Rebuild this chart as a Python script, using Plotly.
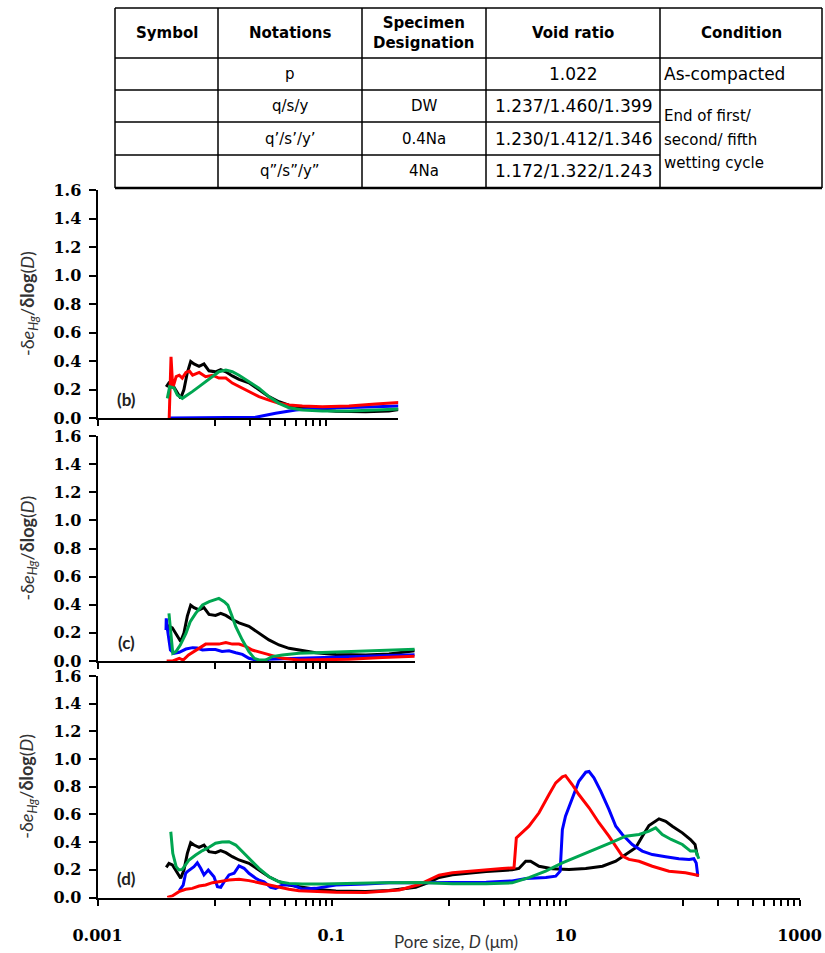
import plotly.graph_objects as go

W, H = 825, 953

# ---------------- data ----------------
# table content
table_header = ["Symbol", "Notations", "Specimen<br>Designation", "Void ratio", "Condition"]
notations = ["p", "q/s/y", "q\u2019/s\u2019/y\u2019", "q\u201d/s\u201d/y\u201d"]
designations = ["", "DW", "0.4Na", "4Na"]
void_ratios = ["1.022", "1.237/1.460/1.399", "1.230/1.412/1.346", "1.172/1.322/1.243"]
cond_first = "As-compacted"
cond_rest = ["End of first/", "second/ fifth", "wetting cycle"]

# x tick labels
xtick_major = [0.001, 0.1, 10, 1000]
xtick_major_text = ["0.001", "0.1", "10", "1000"]
xtick_minor = [0.02, 0.03, 0.04, 0.05, 0.06, 0.07, 0.08, 0.09, 0.01,
               1, 2, 3, 4, 5, 6, 7, 8, 9,
               100, 200, 300, 400, 500, 600, 700, 800, 900]
ytick_vals = [0.0, 0.2, 0.4, 0.6, 0.8, 1.0, 1.2, 1.4, 1.6]

# black: as-compacted (p), shown in every panel
p_D = [0.00387, 0.00408, 0.00436, 0.00466, 0.00514, 0.00548, 0.00586, 0.00626, 0.00668,
       0.00738, 0.00813, 0.00897, 0.0102, 0.0113, 0.0125, 0.0142, 0.0162, 0.0197, 0.024,
       0.0292, 0.0356, 0.0433, 0.0563, 0.0732, 0.109, 0.196, 0.31, 0.524, 0.68, 0.83, 1.08,
       1.5, 2.1, 2.9, 3.5, 4.0, 4.57, 5.03, 5.94, 7.7, 10.7, 14.9, 20.7, 26.9, 32.7, 39.8,
       45.4, 51.7, 63, 71.8, 81.8, 99.7, 117, 128, 134]
p_v = [0.218, 0.247, 0.236, 0.199, 0.139, 0.199, 0.319, 0.396, 0.379,
       0.363, 0.379, 0.331, 0.324, 0.339, 0.324, 0.295, 0.271, 0.247, 0.199,
       0.150, 0.114, 0.090, 0.074, 0.059, 0.047, 0.043, 0.050, 0.074, 0.110, 0.145, 0.165,
       0.178, 0.188, 0.195, 0.200, 0.210, 0.262, 0.262, 0.226, 0.207, 0.202, 0.209, 0.226,
       0.262, 0.311, 0.359, 0.443, 0.520, 0.568, 0.551, 0.515, 0.467, 0.419, 0.383, 0.300]

# panel (b)
b_red_D = [0.0041, 0.00425, 0.0044, 0.0047, 0.0050, 0.0053, 0.0057, 0.0061, 0.0065, 0.0074,
           0.0084, 0.0096, 0.0109, 0.0125, 0.0142, 0.0162, 0.0197, 0.024, 0.0292, 0.0356,
           0.0433, 0.0563, 0.0834, 0.141, 0.239, 0.373, 0.45]
b_red_v = [0.0, 0.43, 0.21, 0.29, 0.30, 0.28, 0.32, 0.33, 0.30, 0.32,
           0.29, 0.30, 0.28, 0.28, 0.245, 0.22, 0.185, 0.15, 0.126, 0.103,
           0.091, 0.084, 0.079, 0.084, 0.098, 0.110, 0.112]
b_blue_D = [0.0041, 0.0225, 0.0333, 0.0494, 0.0732, 0.141, 0.239, 0.373, 0.45]
b_blue_v = [0.0, 0.005, 0.033, 0.056, 0.067, 0.072, 0.079, 0.085, 0.087]
b_green_D = [0.00395, 0.00414, 0.00451, 0.00481, 0.00531, 0.00586, 0.00646, 0.00738, 0.00841,
             0.00958, 0.0109, 0.0125, 0.0142, 0.0162, 0.0197, 0.024, 0.0292, 0.0356, 0.0433,
             0.0563, 0.0834, 0.141, 0.239, 0.373, 0.45]
b_green_v = [0.138, 0.22, 0.21, 0.161, 0.138, 0.16, 0.185, 0.22, 0.255,
             0.29, 0.325, 0.337, 0.325, 0.30, 0.255, 0.209, 0.15, 0.103, 0.072,
             0.056, 0.049, 0.049, 0.056, 0.063, 0.065]

# panel (c)
c_red_D = [0.0039, 0.0044, 0.0050, 0.0054, 0.0060, 0.0067, 0.0074, 0.0084, 0.0096, 0.0109,
           0.0125, 0.0142, 0.0162, 0.0185, 0.021, 0.026, 0.031, 0.038, 0.0527, 0.0834,
           0.141, 0.272, 0.507, 0.6]
c_red_v = [0.0, 0.0, 0.019, 0.007, 0.043, 0.068, 0.095, 0.12, 0.12, 0.12,
           0.132, 0.12, 0.12, 0.104, 0.078, 0.055, 0.036, 0.019, 0.007, 0.007,
           0.012, 0.024, 0.035, 0.037]
c_blue_D = [0.00385, 0.00387, 0.0040, 0.0042, 0.0045, 0.0050, 0.0057, 0.0065, 0.0071, 0.0079,
            0.0090, 0.0102, 0.0116, 0.0133, 0.0152, 0.0173, 0.0197, 0.0225, 0.026, 0.0292,
            0.0527, 0.141, 0.507, 0.6]
c_blue_v = [0.22, 0.303, 0.20, 0.078, 0.055, 0.062, 0.085, 0.095, 0.092, 0.078,
            0.081, 0.081, 0.068, 0.073, 0.059, 0.047, 0.019, 0.007, 0.0, 0.012,
            0.019, 0.031, 0.045, 0.047]
c_green_D = [0.00408, 0.0044, 0.0047, 0.0051, 0.0057, 0.0062, 0.0069, 0.0079, 0.0090, 0.0102,
             0.0109, 0.0121, 0.0130, 0.0140, 0.0152, 0.0173, 0.0197, 0.0219, 0.024, 0.0274,
             0.031, 0.038, 0.0527, 0.0732, 0.141, 0.272, 0.507, 0.6]
c_green_v = [0.339, 0.055, 0.068, 0.113, 0.197, 0.28, 0.339, 0.398, 0.422, 0.438,
             0.445, 0.422, 0.398, 0.327, 0.244, 0.149, 0.066, 0.019, 0.007, 0.007,
             0.031, 0.043, 0.055, 0.059, 0.066, 0.073, 0.083, 0.085]

# panel (d)
d_red_D = [0.00395, 0.00436, 0.00497, 0.00567, 0.00646, 0.00738, 0.0084, 0.0096, 0.0109, 0.0133,
           0.0162, 0.0197, 0.024, 0.0292, 0.0356, 0.0433, 0.0527, 0.0732, 0.109, 0.196,
           0.38, 0.56, 0.68, 0.83, 1.08, 1.5, 2.1, 2.88, 3.63, 3.8, 4.87, 5.94, 7.23, 8.25,
           9.4, 10.0, 11.4, 13.0, 15.9, 19.3, 23.5, 26.9, 30.6, 34.9, 42.5, 55.2, 76.7,
           106, 130, 138]
d_red_v = [0.0, 0.011, 0.042, 0.059, 0.066, 0.083, 0.090, 0.107, 0.114, 0.126,
           0.131, 0.122, 0.107, 0.090, 0.074, 0.059, 0.049, 0.042, 0.038, 0.036,
           0.054, 0.094, 0.13, 0.161, 0.178, 0.19, 0.202, 0.209, 0.214, 0.431, 0.515, 0.612,
           0.744, 0.828, 0.872, 0.88, 0.816, 0.744, 0.648, 0.54, 0.443, 0.371, 0.299, 0.275,
           0.262, 0.226, 0.19, 0.178, 0.166, 0.159]
d_blue_D = [0.0050, 0.0054, 0.00567, 0.00586, 0.00668, 0.00713, 0.00762, 0.00813, 0.00885,
            0.0099, 0.0106, 0.0113, 0.0121, 0.0133, 0.0147, 0.0162, 0.0179, 0.0197, 0.0225,
            0.024, 0.0265, 0.0302, 0.0333, 0.038, 0.0463, 0.0563, 0.0732, 0.109, 0.196, 0.31,
            0.56, 1.08, 2.1, 3.5, 4.6, 6.8, 8.25, 9.0, 9.4, 10.0, 11.4, 13.0, 14.9, 15.9,
            17.5, 20.0, 23.5, 26.9, 30.6, 37.2, 45.3, 55.2, 71.8, 93, 114, 125, 131, 135, 138]
d_blue_v = [0.05, 0.09, 0.175, 0.187, 0.223, 0.251, 0.211, 0.163, 0.199,
            0.150, 0.078, 0.074, 0.114, 0.163, 0.175, 0.228, 0.211, 0.175, 0.139,
            0.126, 0.114, 0.074, 0.066, 0.09, 0.09, 0.061, 0.066, 0.09, 0.097, 0.107,
            0.106, 0.106, 0.11, 0.12, 0.137, 0.144, 0.154, 0.19, 0.49, 0.588, 0.708, 0.84,
            0.905, 0.91, 0.865, 0.768, 0.636, 0.515, 0.455, 0.383, 0.335, 0.31, 0.294, 0.28,
            0.275, 0.28, 0.25, 0.16, 0.16]
d_green_D = [0.00423, 0.0044, 0.0047, 0.00497, 0.0053, 0.00567, 0.00606, 0.0069, 0.0079,
             0.0090, 0.0102, 0.0116, 0.0133, 0.0152, 0.0173, 0.0197, 0.024, 0.0292, 0.0356,
             0.0433, 0.0563, 0.0834, 0.141, 0.272, 0.56, 1.08, 2.1, 3.5, 4.87, 6.77, 9.4,
             13.0, 18.1, 25.1, 32.7, 42.5, 51.7, 59.0, 67.2, 80.0, 99.7, 117, 130, 136, 138]
d_green_v = [0.475, 0.319, 0.223, 0.199, 0.203, 0.235, 0.271, 0.307, 0.339,
             0.363, 0.392, 0.401, 0.403, 0.379, 0.331, 0.283, 0.211, 0.15, 0.114,
             0.102, 0.097, 0.097, 0.102, 0.107, 0.108, 0.10, 0.10, 0.106, 0.144, 0.19, 0.25,
             0.299, 0.347, 0.40, 0.443, 0.455, 0.479, 0.503, 0.455, 0.419, 0.383, 0.335,
             0.335, 0.30, 0.28]

panel_labels = ["(b)", "(c)", "(d)"]
x_title = "Pore size, <i>D</i> (\u03bcm)"
y_title = "-\u03b4<i>e</i><sub><i>Hg</i></sub>/<b>\u03b4log</b>(<i>D</i>)"

# ---------------- styles / layout helpers ----------------
BLACK, RED, BLUE, GREEN = "#000000", "#ff0000", "#0000ff", "#00a651"
LW = 3


def fx(px):  # page pixel -> paper fraction
    return px / W


def fy(py):
    return 1 - py / H


fig = go.Figure()

panels = [
    ("x", "y", [(p_D, p_v, BLACK), (b_blue_D, b_blue_v, BLUE), (b_red_D, b_red_v, RED),
                (b_green_D, b_green_v, GREEN)]),
    ("x2", "y2", [(p_D, p_v, BLACK), (c_blue_D, c_blue_v, BLUE), (c_red_D, c_red_v, RED),
                  (c_green_D, c_green_v, GREEN)]),
    ("x3", "y3", [(p_D, p_v, BLACK), (d_blue_D, d_blue_v, BLUE), (d_red_D, d_red_v, RED),
                  (d_green_D, d_green_v, GREEN)]),
]
for xa, ya, series in panels:
    for D, v, col in series:
        fig.add_trace(go.Scatter(x=D, y=v, mode="lines", xaxis=xa, yaxis=ya,
                                 line=dict(color=col, width=LW), showlegend=False,
                                 hoverinfo="skip"))

# geometry (page pixels)
x_left = 97.5
dec = 117.0
geo = {  # name: (x_end_log, y_zero_px, y_top_px)
    "b": (-0.43, 418, 190),
    "c": (-0.29, 661, 436),
    "d": (3.0, 897.5, 676),
}

tick_font = dict(family="DejaVu Serif", size=16, color="black", weight="bold")


def xaxis_cfg(end_log, anchor, show_labels):
    if show_labels:
        tv = xtick_major + xtick_minor
        tt = xtick_major_text + [""] * len(xtick_minor)
    else:
        tv = [0.001] + xtick_minor
        tt = [""] * len(tv)
    return dict(type="log", range=[-3, end_log],
                domain=[fx(x_left), fx(x_left + (end_log + 3) * dec)],
                anchor=anchor, showline=True, linecolor="black", linewidth=2,
                ticks="outside", ticklen=6, tickwidth=1.5, tickcolor="black",
                tickvals=tv, ticktext=tt, tickfont=tick_font, ticklabelstandoff=16,
                showgrid=False, zeroline=False, automargin=False)


def yaxis_cfg(y0, y1, anchor):
    return dict(range=[0, 1.6], domain=[fy(y0), fy(y1)], anchor=anchor,
                showline=True, linecolor="black", linewidth=2,
                ticks="outside", ticklen=7, tickwidth=1.5, tickcolor="black",
                tickvals=ytick_vals, tickformat=".1f", tickfont=tick_font,
                ticklabelstandoff=4,
                showgrid=False, zeroline=False, automargin=False)


fig.update_layout(
    xaxis=xaxis_cfg(geo["b"][0], "y", False),
    yaxis=yaxis_cfg(geo["b"][1], geo["b"][2], "x"),
    xaxis2=xaxis_cfg(geo["c"][0], "y2", False),
    yaxis2=yaxis_cfg(geo["c"][1], geo["c"][2], "x2"),
    xaxis3=xaxis_cfg(geo["d"][0], "y3", True),
    yaxis3=yaxis_cfg(geo["d"][1], geo["d"][2], "x3"),
)

annotations = []
shapes = []

# y titles and panel labels
for key, lab in zip(["b", "c", "d"], panel_labels):
    _, y0, y1 = geo[key]
    annotations.append(dict(text=y_title, xref="paper", yref="paper",
                            x=fx(28), y=fy((y0 + y1) / 2), textangle=-90,
                            showarrow=False, xanchor="center", yanchor="middle",
                            font=dict(family="Lato", size=18, color="#333333")))
    annotations.append(dict(text="<b>" + lab + "</b>", xref="paper", yref="paper",
                            x=fx(126), y=fy(y0 - 19), showarrow=False,
                            xanchor="center", yanchor="middle",
                            font=dict(family="Lato", size=17, color="#222222")))

# x title
annotations.append(dict(text=x_title, xref="paper", yref="paper", x=fx(456), y=fy(941),
                        showarrow=False, xanchor="center", yanchor="middle",
                        font=dict(family="Lato", size=17, color="#333333")))

# ---------------- table ----------------
col_x = [115, 218, 362, 486, 660, 822]
row_y = [8, 58, 90, 122, 155, 188]
line_style = dict(color="black", width=1.5)
for cx in col_x:
    shapes.append(dict(type="line", xref="paper", yref="paper", x0=fx(cx), x1=fx(cx),
                       y0=fy(row_y[0]), y1=fy(row_y[-1]), line=line_style))
for i, ry in enumerate(row_y):
    x_end = col_x[-1] if i in (0, 1, 2, 5) else col_x[4]
    lw = 2.5 if i == 5 else 1.5
    shapes.append(dict(type="line", xref="paper", yref="paper", x0=fx(col_x[0]), x1=fx(x_end),
                       y0=fy(ry), y1=fy(ry), line=dict(color="black", width=lw)))

tfont_h = dict(family="DejaVu Sans", size=15, color="black", weight="bold")
tfont = dict(family="DejaVu Sans", size=15, color="black")
tfont_num = dict(family="DejaVu Sans", size=17, color="black")
for j, h in enumerate(table_header):
    cx = (col_x[j] + col_x[j + 1]) / 2
    annotations.append(dict(text=h, xref="paper", yref="paper", x=fx(cx),
                            y=fy((row_y[0] + row_y[1]) / 2), showarrow=False,
                            xanchor="center", yanchor="middle", font=tfont_h))
for r in range(4):
    cy = (row_y[r + 1] + row_y[r + 2]) / 2
    for j, txt, fnt in [(1, notations[r], tfont), (2, designations[r], tfont),
                        (3, void_ratios[r], tfont_num)]:
        if txt:
            cx = (col_x[j] + col_x[j + 1]) / 2
            annotations.append(dict(text=txt, xref="paper", yref="paper", x=fx(cx),
                                    y=fy(cy), showarrow=False, xanchor="center",
                                    yanchor="middle", font=fnt))
annotations.append(dict(text=cond_first, xref="paper", yref="paper", x=fx(662),
                        y=fy((row_y[1] + row_y[2]) / 2), showarrow=False,
                        xanchor="left", yanchor="middle", font=tfont_num))
for txt, yy in zip(cond_rest, [116, 140, 163]):
    annotations.append(dict(text=txt, xref="paper", yref="paper", x=fx(662), y=fy(yy),
                            showarrow=False, xanchor="left", yanchor="middle", font=tfont))

fig.update_layout(width=W, height=H, margin=dict(l=0, r=0, t=0, b=0),
                  template="none", paper_bgcolor="white", plot_bgcolor="white",
                  annotations=annotations, shapes=shapes, showlegend=False)

fig.write_html("out.html", config={"displayModeBar": False},
               post_script="document.body.style.margin='0';document.body.style.overflow='hidden';")
